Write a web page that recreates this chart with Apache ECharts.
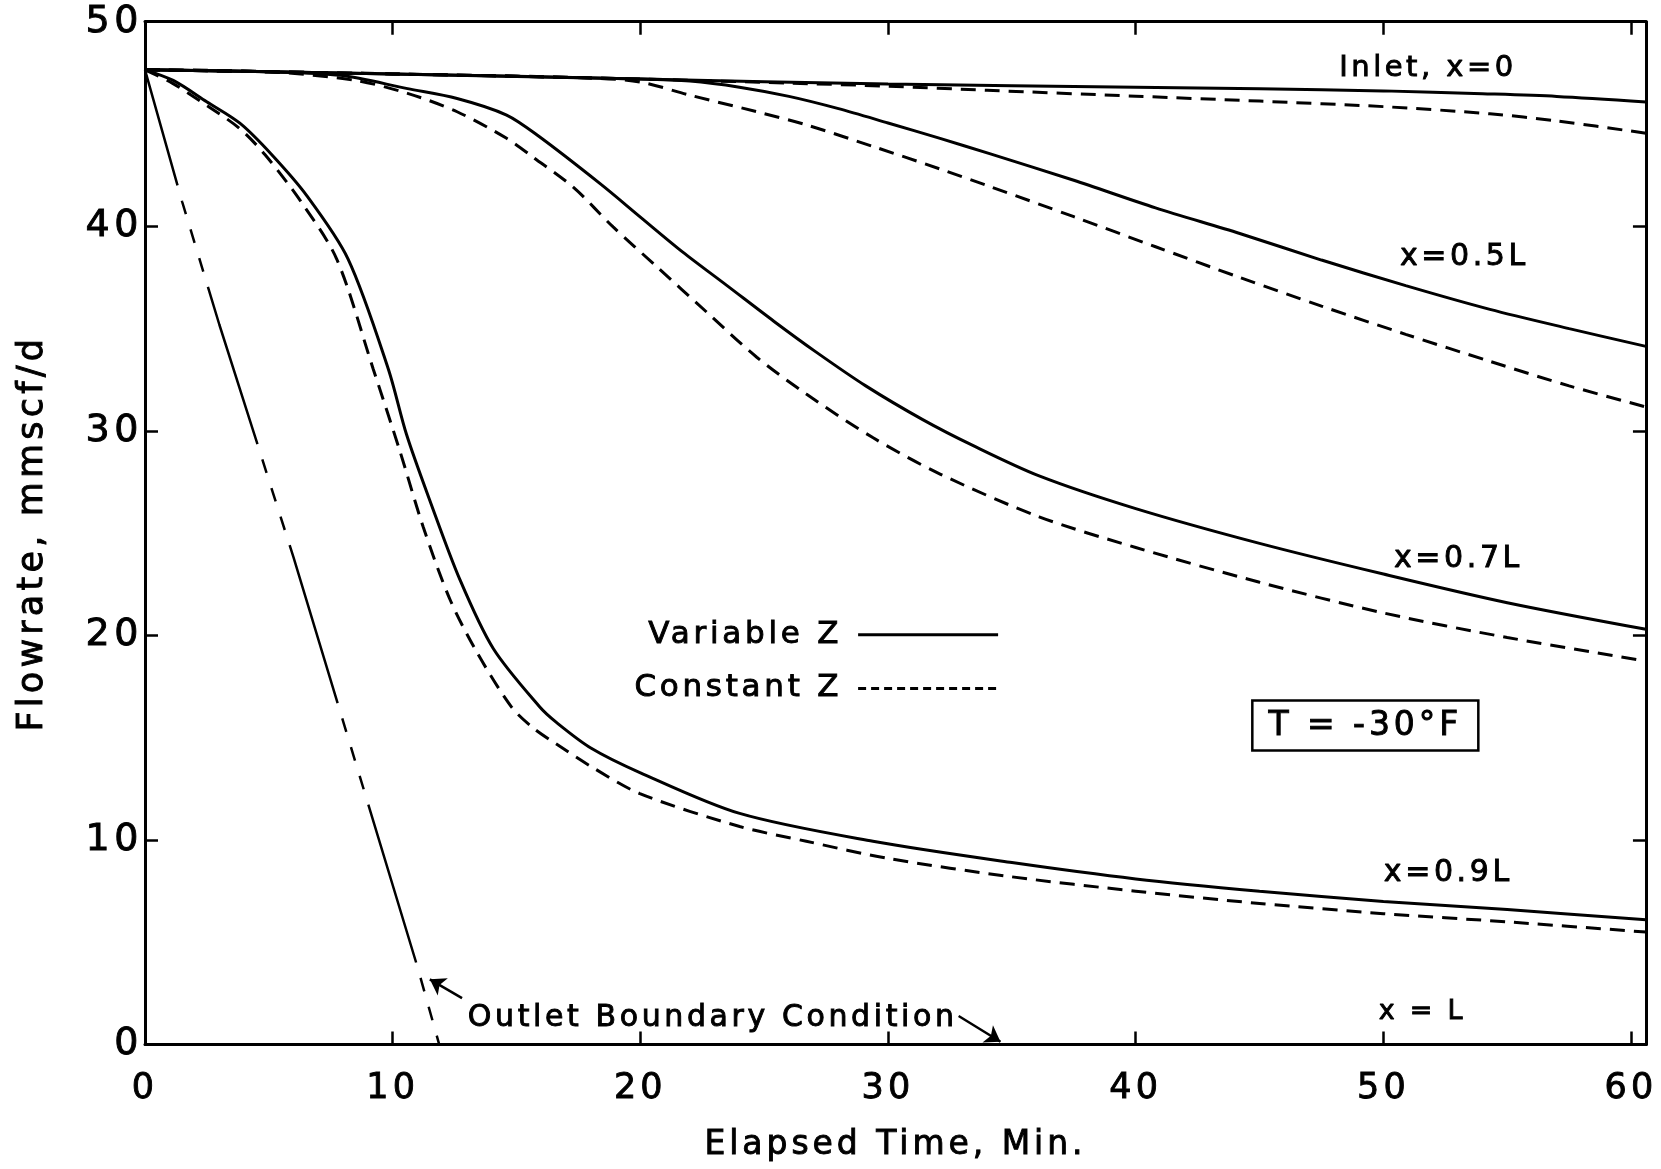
<!DOCTYPE html>
<html>
<head>
<meta charset="utf-8">
<title>Flowrate vs elapsed time, T = -30°F</title>
<style>
  html, body { margin: 0; padding: 0; background: #fff; }
  #chart { width: 1661px; height: 1169px; }
</style>
<script src="https://cdn.jsdelivr.net/npm/echarts@6/dist/echarts.min.js"></script>
</head>
<body>
<div id="chart"></div>
<script>
// Open up the letter tracking a little, like stencil lettering on a drafted figure.
(function () {
  const proto = window.CanvasRenderingContext2D && CanvasRenderingContext2D.prototype;
  if (!proto || !('letterSpacing' in proto)) return;
  const TRACK = 0.12;
  const setTrack = function (ctx) {
    const m = /(\d+(?:\.\d+)?)px/.exec(ctx.font || '');
    ctx.letterSpacing = m ? (parseFloat(m[1]) * TRACK).toFixed(2) + 'px' : '0px';
  };
  ['fillText', 'strokeText', 'measureText'].forEach(function (fn) {
    const orig = proto[fn];
    proto[fn] = function () { setTrack(this); return orig.apply(this, arguments); };
  });
})();

// ---- axis ticks ----
const timeTicks = [0, 10, 20, 30, 40, 50, 60];     // Elapsed Time, Min.
const flowTicks = [0, 10, 20, 30, 40, 50];         // Flowrate, mmscf/d
const timeEnd = 60.6;

// ---- flowrate curves, [minutes, mmscf/d] ----
// Inlet, x = 0
const inletVariableZ = [[0, 47.65], [10, 47.45], [20, 47.2], [30, 46.95], [40, 46.8], [45, 46.72],
  [50, 46.62], [54, 46.48], [57, 46.35], [60.6, 46.08]];
const inletConstantZ = [[0, 47.65], [10, 47.45], [20, 47.2], [26, 47.0], [30, 46.85], [34, 46.65],
  [40, 46.36], [45, 46.12], [50, 45.85], [54.3, 45.5], [57, 45.15], [60.6, 44.55]];

// x = 0.5L
const halfVariableZ = [[0, 47.65], [10, 47.45], [20, 47.2], [22, 47.1], [24, 46.8], [26, 46.35],
  [28, 45.75], [30, 45.05], [32.1, 44.3], [34.1, 43.55], [37.5, 42.25], [40.8, 40.9], [44.2, 39.65],
  [47.5, 38.35], [50.9, 37.1], [54.3, 35.94], [57.5, 35.0], [60.6, 34.13]];
const halfConstantZ = [[0, 47.65], [10, 47.45], [18, 47.25], [20, 47.05], [22, 46.41], [24.7, 45.6],
  [26.7, 44.96], [29.4, 43.9], [32.1, 42.8], [34.1, 41.95], [37.5, 40.47], [40.8, 39.0],
  [44.2, 37.5], [47.5, 36.1], [50.9, 34.72], [54.3, 33.4], [57.5, 32.2], [60.6, 31.17]];

// x = 0.7L
const sevenVariableZ = [[0, 47.65], [5, 47.55], [7.9, 47.38], [10.6, 46.73], [12.6, 46.25],
  [14.6, 45.44], [15.9, 44.4], [18.4, 42.06], [20, 40.45], [21.7, 38.75], [23.5, 37.1],
  [25.4, 35.35], [27.1, 33.85], [29.1, 32.2], [31.4, 30.55], [33.4, 29.3], [36.1, 27.8],
  [40, 26.2], [45, 24.5], [50, 23.0], [55, 21.6], [60.6, 20.3]];
const sevenConstantZ = [[0, 47.65], [5, 47.55], [8.5, 47.13], [10.6, 46.5], [12.6, 45.6],
  [14.6, 44.3], [15.7, 43.35], [17.3, 41.9], [18.9, 39.97], [20.65, 38.04], [22.7, 35.78],
  [24.7, 33.6], [26.7, 31.8], [29.4, 29.66], [32.1, 27.89], [36.1, 25.8], [40, 24.3],
  [45, 22.6], [50, 21.1], [55, 19.9], [60.6, 18.75]];

// x = 0.9L
const nineVariableZ = [[0, 47.65], [1.14, 47.13], [2.49, 46.09], [3.83, 45.04], [5.11, 43.51],
  [6.53, 41.5], [8.2, 38.4], [9.82, 33.04], [10.56, 29.82], [11.5, 26.6], [12.71, 22.74],
  [14.06, 19.36], [15.94, 16.5], [16.61, 15.75], [18, 14.5], [19.98, 13.3], [24.01, 11.3],
  [29.39, 9.94], [35, 8.9], [40, 8.1], [45, 7.5], [50, 7.0], [55, 6.6], [60.6, 6.1]];
const nineConstantZ = [[0, 47.65], [1.1, 47.0], [2.5, 45.9], [3.8, 44.8], [4.84, 43.51],
  [6.3, 41.2], [7.74, 38.4], [9.21, 33.04], [10.29, 29.02], [11.23, 25.31], [12.31, 21.77],
  [13.39, 19.2], [14.8, 16.5], [15.7, 15.45], [16.61, 14.69], [18, 13.6], [19.98, 12.27],
  [24.01, 10.66], [26.7, 9.94], [30, 9.1], [35, 8.2], [40, 7.5], [45, 6.9], [50, 6.4],
  [55, 6.0], [60.6, 5.5]];

// x = L, outlet boundary condition
const outletBoundary = [[0, 47.65], [1.5, 41.2], [3, 35.2], [6, 23.8], [8, 15.8], [11, 3.8], [11.88, 0]];

// ---- styling ----
const FONT = 'DejaVu Sans';
const INK = '#000';
const SOLID = 'solid';
const DASHED = [15, 9];
const OUTLET_DASH = [165, 16, 14, 16, 14, 16, 14, 16];
const INKED = { textBorderColor: INK, textBorderWidth: 0.9 };   // slightly heavier pen

const chart = echarts.init(document.getElementById('chart'), null, { renderer: 'canvas' });

function curve(name, data, dash) {
  return {
    type: 'line', name: name, data: data,
    smooth: 0.3,
    symbol: 'none', showSymbol: false, clip: true, silent: true,
    lineStyle: { color: INK, width: 3, type: dash, cap: 'butt' },
    itemStyle: { color: INK },
    emphasis: { disabled: true },
    z: 3
  };
}

function frameAxis(pos, isX) {
  const ticks = isX ? timeTicks : flowTicks;
  return {
    type: 'value', position: pos,
    min: ticks[0], max: isX ? timeEnd : ticks[ticks.length - 1],
    interval: ticks[1] - ticks[0],
    axisLine: { show: true, onZero: false, lineStyle: { color: INK, width: 3 } },
    axisTick: { show: true, inside: true, length: 13, lineStyle: { color: INK, width: 2.5 } },
    axisLabel: { show: false },
    splitLine: { show: false }
  };
}

const labelStyle = Object.assign({ fontFamily: FONT, color: INK }, INKED);

const option = {
  animation: false,
  backgroundColor: '#fff',
  grid: { left: 145, right: 14, top: 19, bottom: 115, containLabel: false },
  xAxis: [
    Object.assign(frameAxis('bottom', true), {
      name: 'Elapsed Time, Min.',
      nameLocation: 'middle', nameGap: 82,
      nameTextStyle: Object.assign({ fontSize: 33 }, labelStyle),
      axisLabel: Object.assign({
        show: true, fontSize: 35, margin: 25, showMaxLabel: false,
        formatter: function (v) { return timeTicks.indexOf(v) >= 0 ? String(v) : ''; }
      }, labelStyle)
    }),
    frameAxis('top', true)
  ],
  yAxis: [
    Object.assign(frameAxis('left', false), {
      name: 'Flowrate, mmscf/d',
      nameLocation: 'middle', nameGap: 92, nameRotate: 90,
      nameTextStyle: Object.assign({ fontSize: 35 }, labelStyle),
      axisLabel: Object.assign({
        show: true, fontSize: 38, margin: 2,
        formatter: function (v) { return flowTicks.indexOf(v) >= 0 ? String(v) : ''; }
      }, labelStyle)
    }),
    frameAxis('right', false)
  ],
  legend: {
    orient: 'vertical', align: 'right',
    left: 629, top: 612,
    itemWidth: 140, itemHeight: 14, itemGap: 18,
    selectedMode: false,
    data: [
      { name: 'Variable Z' },
      { name: 'Constant Z', lineStyle: { type: [8, 5] } }
    ],
    itemStyle: { opacity: 0, borderWidth: 0 },
    lineStyle: { width: 3 },
    textStyle: Object.assign({ fontSize: 31, width: 205, lineHeight: 30, padding: [0, 11, 0, 0] }, labelStyle)
  },
  series: [
    curve('Variable Z', inletVariableZ, SOLID),
    curve('Constant Z', inletConstantZ, DASHED),
    curve('Variable Z', halfVariableZ, SOLID),
    curve('Constant Z', halfConstantZ, DASHED),
    curve('Variable Z', sevenVariableZ, SOLID),
    curve('Constant Z', sevenConstantZ, DASHED),
    curve('Variable Z', nineVariableZ, SOLID),
    curve('Constant Z', nineConstantZ, DASHED),
    Object.assign(curve('Outlet Boundary Condition', outletBoundary, OUTLET_DASH), {
      smooth: false,
      lineStyle: { color: INK, width: 2.5, type: OUTLET_DASH, dashOffset: 45, cap: 'butt' },
      markLine: {
        silent: true,
        symbol: ['none', 'arrow'],
        symbolSize: 15,
        label: { show: false },
        lineStyle: { color: INK, width: 2.5, type: 'solid' },
        data: [
          [{ coord: [12.8, 2.27] }, { coord: [11.5, 3.19] }],
          [{ coord: [32.85, 1.4] }, { coord: [34.54, 0.14] }]
        ]
      }
    })
  ]
};

chart.setOption(option);

// Curve tags and notes, anchored in data space.
const notes = [
  { text: 'Inlet, x=0', at: [51.8, 47.73], size: 29 },
  { text: 'x=0.5L', at: [53.27, 38.5], size: 30 },
  { text: 'x=0.7L', at: [53.03, 23.75], size: 30 },
  { text: 'x=0.9L', at: [52.62, 8.4], size: 30 },
  { text: 'x = L', at: [51.57, 1.6], size: 27 },
  { text: 'Outlet Boundary Condition', at: [22.92, 1.3], size: 30 }
];
const tempBox = { text: 'T = -30°F', at: [49.27, 15.6], size: 33, w: 226, h: 50 };

function noteStyle(text, size) {
  return {
    text: text, fill: INK, stroke: INK, lineWidth: INKED.textBorderWidth,
    font: size + 'px "' + FONT + '"', align: 'center', verticalAlign: 'middle'
  };
}

const graphics = notes.map(function (n) {
  const p = chart.convertToPixel({ gridIndex: 0 }, n.at);
  return { type: 'text', x: p[0], y: p[1], silent: true, z: 10, style: noteStyle(n.text, n.size) };
});
const bp = chart.convertToPixel({ gridIndex: 0 }, tempBox.at);
graphics.push({
  type: 'rect', silent: true, z: 10,
  shape: { x: bp[0] - tempBox.w / 2, y: bp[1] - tempBox.h / 2, width: tempBox.w, height: tempBox.h },
  style: { fill: '#fff', stroke: INK, lineWidth: 2.5 }
});
graphics.push({
  type: 'text', x: bp[0], y: bp[1] + 1, silent: true, z: 11,
  style: noteStyle(tempBox.text, tempBox.size)
});
chart.setOption({ graphic: graphics });
</script>
</body>
</html>
